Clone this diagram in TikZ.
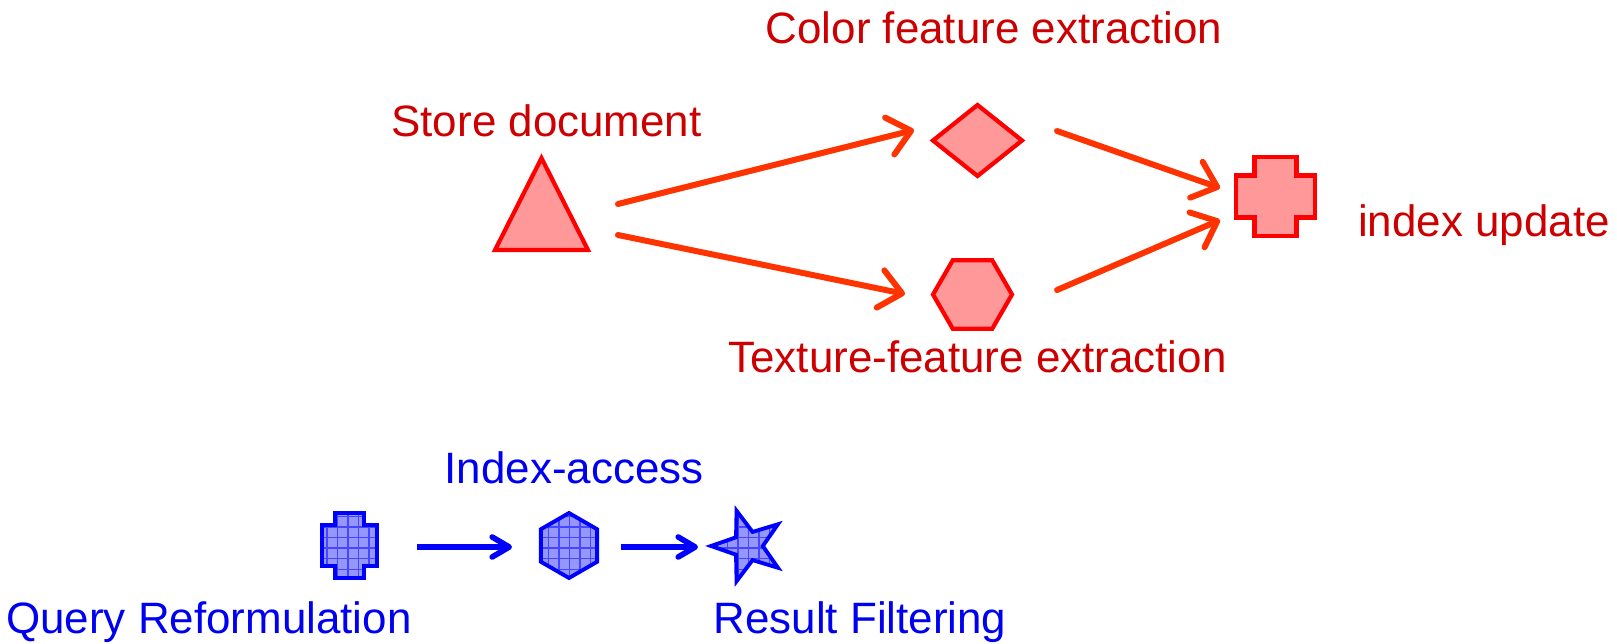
\documentclass[tikz,border=0pt]{standalone}
\usepackage{fontspec}
\setmainfont{Liberation Sans}
\usepackage{xcolor}
\definecolor{shapered}{RGB}{255,0,0}
\definecolor{shapepink}{RGB}{255,153,153}
\definecolor{arrowred}{RGB}{255,51,0}
\definecolor{textred}{RGB}{204,0,0}
\definecolor{textblue}{RGB}{0,0,240}
\definecolor{fillblue}{RGB}{150,150,255}
\definecolor{gridblue}{RGB}{70,70,255}
\usepackage{tikz}
\usetikzlibrary{shapes.geometric}
\usetikzlibrary{arrows.meta}
\usetikzlibrary{patterns}
\tikzset{
  redshape/.style={draw=shapered,fill=shapepink,line width=1.2pt,inner sep=0pt,outer sep=0pt},
  blueshape/.style={draw=blue,line width=1.1pt,preaction={fill=fillblue},pattern=grid,pattern color=gridblue,inner sep=0pt,outer sep=0pt},
  redarrow/.style={draw=arrowred,line width=1.7pt,line cap=round,-{Straight Barb[round,length=2.2mm,width=3.8mm]}},
  bluearrow/.style={draw=blue,line width=1.6pt,-{Straight Barb[round,length=1.7mm,width=2.0mm]}},
  redlabel/.style={text=textred,anchor=base,font=\fontsize{12.5}{15}\selectfont},
  bluelabel/.style={text=textblue,anchor=base,font=\fontsize{12.5}{15}\selectfont},
}
\newcommand{\plusmark}[6]{\draw[#1,shift={(#2.center)}] (-#5,#4) -- (#5,#4) -- (#5,#6) -- (#3,#6) -- (#3,-#6) -- (#5,-#6) -- (#5,-#4) -- (-#5,-#4) -- (-#5,-#6) -- (-#3,-#6) -- (-#3,#6) -- (-#5,#6) -- cycle;}

\begin{document}
\begin{tikzpicture}
\useasboundingbox (0,0) rectangle (16.17,6.43);

\node (store) at (5.415,4.215) [redshape,isosceles triangle,isosceles triangle stretches,shape border rotate=90,minimum width=0.93cm,minimum height=0.92cm] {};
\node (color) at (9.775,5.025) [redshape,diamond,minimum width=0.89cm,minimum height=0.71cm] {};
\node (texture) at (9.725,3.485) [redshape,regular polygon,regular polygon sides=6,minimum size=0.79cm] {};
\node (update) at (12.755,4.465) [minimum width=0.79cm,minimum height=0.79cm] {};
\plusmark{redshape}{update}{0.395}{0.395}{0.21}{0.21}

\node (query) at (3.495,0.975) [minimum width=0.55cm,minimum height=0.65cm] {};
\plusmark{blueshape}{query}{0.275}{0.325}{0.145}{0.205}
\node (access) at (5.69,0.975) [blueshape,regular polygon,regular polygon sides=6,shape border rotate=30,minimum size=0.65cm] {};
\node (filter) at (7.48,0.97) [blueshape,star,star points=5,star point ratio=2.5,shape border rotate=90,minimum size=0.74cm] {};

\node (storelbl) at (5.465,5.07) [redlabel] {Store document};
\node (colorlbl) at (9.94,6.00) [redlabel] {Color feature extraction};
\node (texturelbl) at (9.775,2.71) [redlabel] {Texture-feature extraction};
\node (updatelbl) at (14.84,4.07) [redlabel] {index update};
\node (accesslbl) at (5.74,1.60) [bluelabel] {Index-access};
\node (querylbl) at (2.09,0.10) [bluelabel] {Query Reformulation};
\node (filterlbl) at (8.60,0.10) [bluelabel] {Result Filtering};

\draw[redarrow] ([shift={(0.765,0.175)}]store.center) -- ([shift={(-0.635,0.105)}]color.center);
\draw[redarrow] ([shift={(0.765,-0.135)}]store.center) -- ([shift={(-0.675,0.005)}]texture.center);
\draw[redarrow] ([shift={(0.795,0.095)}]color.center) -- ([shift={(-0.555,0.085)}]update.center);
\draw[redarrow] ([shift={(0.845,0.045)}]texture.center) -- ([shift={(-0.555,-0.235)}]update.center);

\draw[bluearrow] ([shift={(0.675,-0.015)}]query.center) -- ([shift={(-0.57,-0.015)}]access.center);
\draw[bluearrow] ([shift={(0.52,-0.015)}]access.center) -- ([shift={(-0.50,-0.01)}]filter.center);
\end{tikzpicture}
\end{document}
